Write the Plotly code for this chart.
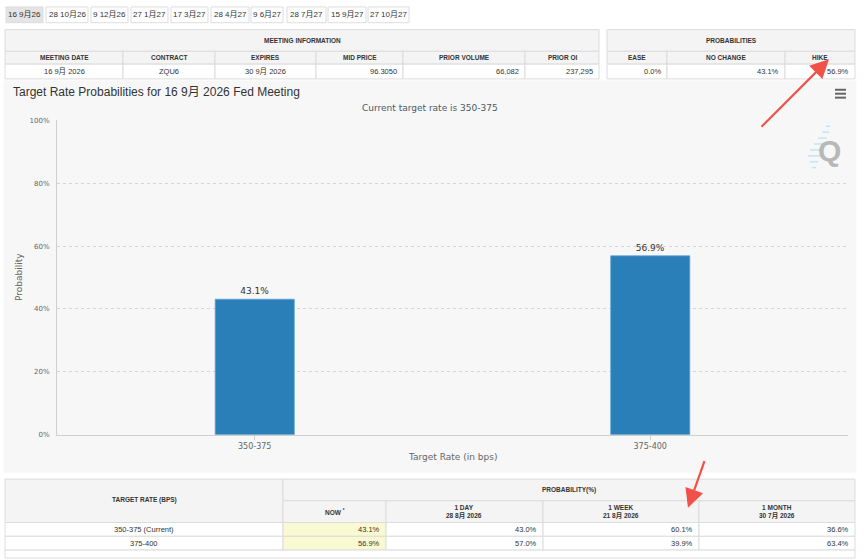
import plotly.graph_objects as go

# ---------------- data ----------------
tab_labels = ["16 9月26", "28 10月26", "9 12月26", "27 1月27", "17 3月27",
              "28 4月27", "9 6月27", "28 7月27", "15 9月27", "27 10月27"]
meeting_header = "MEETING INFORMATION"
meeting_cols = ["MEETING DATE", "CONTRACT", "EXPIRES", "MID PRICE", "PRIOR VOLUME", "PRIOR OI"]
meeting_vals = ["16 9月 2026", "ZQU6", "30 9月 2026", "96.3050", "66,082", "237,295"]
prob_header = "PROBABILITIES"
prob_cols = ["EASE", "NO CHANGE", "HIKE"]
prob_vals = [0.0, 43.1, 56.9]

chart_title = "Target Rate Probabilities for 16 9月 2026 Fed Meeting"
chart_subtitle = "Current target rate is 350-375"
target_rates = ["350-375", "375-400"]
probabilities = [43.1, 56.9]
y_tick_values = [0, 20, 40, 60, 80, 100]
y_tick_labels = ["0%", "20%", "40%", "60%", "80%", "100%"]

row_labels = ["350-375 (Current)", "375-400"]
horizon_headers = ["NOW <sup>*</sup>", "1 DAY<br>28 8月 2026", "1 WEEK<br>21 8月 2026", "1 MONTH<br>30 7月 2026"]
prob_now = [43.1, 56.9]
prob_1day = [43.0, 57.0]
prob_1week = [60.1, 39.9]
prob_1month = [36.6, 63.4]

# ---------------- layout helpers ----------------
W, H = 864, 560
FONT = "Liberation Sans, Arial, Noto Sans CJK SC, sans-serif"
CFONT = "DejaVu Sans, Noto Sans CJK SC, sans-serif"
BORDER = "#dcdcdc"
HEAD_BG = "#f4f4f4"
TXT = "#333333"

def px(x):
    return x / W

def py(y):
    return 1 - y / H

shapes = []
annotations = []

def rect(x0, y0, x1, y1, fill="white", line=BORDER, lw=1, layer="below"):
    shapes.append(dict(type="rect", xref="paper", yref="paper",
                       x0=px(x0), x1=px(x1), y0=py(y1), y1=py(y0),
                       fillcolor=fill, line=dict(color=line, width=lw), layer=layer))

def text(x, y, s, size=7, color=TXT, anchor="center", bold=False, family=FONT):
    if bold:
        s = "<b>" + s + "</b>"
    annotations.append(dict(xref="paper", yref="paper", x=px(x), y=py(y), text=s,
                            showarrow=False, xanchor=anchor, yanchor="middle",
                            font=dict(size=size, color=color, family=family)))

def cell(x0, y0, x1, y1, s, fill="white", align="center", bold=False, size=7):
    rect(x0, y0, x1, y1, fill=fill)
    if align == "center":
        text((x0 + x1) / 2, (y0 + y1) / 2, s, size=size, bold=bold)
    else:
        text(x1 - 4, (y0 + y1) / 2, s, size=size, bold=bold, anchor="right")

# ---------------- tabs ----------------
tab_edges = [(6, 43), (46, 88), (91, 128), (131, 168), (171, 208),
             (211, 249), (251, 283), (287, 326), (328, 366), (368, 409)]
for i, (lab, (a, b)) in enumerate(zip(tab_labels, tab_edges)):
    rect(a, 3, b, 19, fill="#e4e4e4" if i == 0 else "white", line="#dddddd")
    text((a + b) / 2, 11, lab, size=8, color="#333")

# ---------------- meeting information table ----------------
m_edges = [5, 123, 215, 316, 403, 525, 599]
rows_y = [26, 48, 61, 76]
rect(m_edges[0], rows_y[0], m_edges[-1], rows_y[1], fill=HEAD_BG)
text((m_edges[0] + m_edges[-1]) / 2, (rows_y[0] + rows_y[1]) / 2, meeting_header, size=6.5, bold=True)
for i, c in enumerate(meeting_cols):
    cell(m_edges[i], rows_y[1], m_edges[i + 1], rows_y[2], c, fill=HEAD_BG, bold=True, size=6.5)
    cell(m_edges[i], rows_y[2], m_edges[i + 1], rows_y[3], meeting_vals[i],
         align="center" if i < 3 else "right", size=7.5)

p_edges = [607, 667, 785, 855]
rect(p_edges[0], rows_y[0], p_edges[-1], rows_y[1], fill=HEAD_BG)
text((p_edges[0] + p_edges[-1]) / 2, (rows_y[0] + rows_y[1]) / 2, prob_header, size=6.5, bold=True)
for i, c in enumerate(prob_cols):
    cell(p_edges[i], rows_y[1], p_edges[i + 1], rows_y[2], c, fill=HEAD_BG, bold=True, size=6.5)
    cell(p_edges[i], rows_y[2], p_edges[i + 1], rows_y[3], f"{prob_vals[i]:.1f}%", align="right", size=7.5)

# ---------------- chart container ----------------
rect(4, 78, 856, 475, fill="#f7f7f7", line="#f7f7f7")
text(11, 89, chart_title, size=12, color="#333", anchor="left")
text(430, 105, chart_subtitle, size=9, color="#4d5766", family=CFONT)
annotations.append(dict(xref="paper", yref="paper", x=px(19), y=py(277), text="Probability",
                        textangle=-90, showarrow=False, xanchor="center", yanchor="middle",
                        font=dict(size=9, color="#666", family=CFONT)))
text(452, 460, "Target Rate (in bps)", size=9, color="#666", family=CFONT)

# hamburger menu
for yy in (87, 91, 95):
    shapes.append(dict(type="line", xref="paper", yref="paper", x0=px(835), x1=px(846),
                       y0=py(yy), y1=py(yy), line=dict(color="#666", width=2), layer="above"))
# watermark logo
for k, (xa, xb, yy) in enumerate([(826, 830, 124), (822, 829, 130), (818, 827, 136),
                                   (814, 824, 142), (810, 822, 148), (808, 820, 154),
                                   (810, 818, 160), (812, 816, 166)]):
    shapes.append(dict(type="line", xref="paper", yref="paper", x0=px(xa), x1=px(xb),
                       y0=py(yy), y1=py(yy), line=dict(color="#bfe6f5", width=1.5), layer="below"))
text(829, 149, "Q", size=30, color="#b8b8b8", bold=True, family="Liberation Sans, Arial")

# ---------------- bottom table ----------------
b_left, b_split = 5, 283
b_edges = [283, 386, 543, 699, 855]
by = [482, 504, 526, 540, 554]
rect(b_left, by[0], b_split, by[2], fill=HEAD_BG)
text((b_left + b_split) / 2, 503, "TARGET RATE (BPS)", size=6.5, bold=True)
rect(b_split, by[0], b_edges[-1], by[1], fill=HEAD_BG)
text((b_split + b_edges[-1]) / 2, 493, "PROBABILITY(%)", size=6.5, bold=True)
for i, hh in enumerate(horizon_headers):
    cell(b_edges[i], by[1], b_edges[i + 1], by[2], hh, fill=HEAD_BG, bold=True, size=6.5)
series = [prob_now, prob_1day, prob_1week, prob_1month]
for r, lab in enumerate(row_labels):
    cell(b_left, by[2 + r], b_split, by[3 + r], lab, size=7.5)
    for i, s in enumerate(series):
        cell(b_edges[i], by[2 + r], b_edges[i + 1], by[3 + r], f"{s[r]:.1f}%",
             fill="#fafad2" if i == 0 else "white", align="right", size=7.5)
rect(b_left, by[4], b_edges[-1], 562, fill="white")

# ---------------- red arrows ----------------
annotations.append(dict(xref="paper", yref="paper", x=px(829), y=py(56), ax=760 - 829, ay=125 - 56,
                        axref="pixel", ayref="pixel", text="", showarrow=True,
                        arrowhead=2, arrowsize=1.7, arrowwidth=2.2, arrowcolor="#f0524a"))
annotations.append(dict(xref="paper", yref="paper", x=px(688), y=py(511), ax=705 - 688, ay=463 - 511,
                        axref="pixel", ayref="pixel", text="", showarrow=True,
                        arrowhead=2, arrowsize=1.7, arrowwidth=2.2, arrowcolor="#f0524a"))

# ---------------- bar chart ----------------
fig = go.Figure()
fig.add_trace(go.Bar(
    x=target_rates, y=probabilities, width=0.2,
    marker=dict(color="#2a7fb8", line=dict(color="#5fa3d3", width=0.8)),
    text=[f"{v:.1f}%" for v in probabilities], textposition="outside",
    textfont=dict(size=9, color="#333", family=CFONT), cliponaxis=False,
    hoverinfo="x+y",
))

fig.update_layout(
    width=W, height=H, margin=dict(l=0, r=0, t=0, b=0),
    paper_bgcolor="white", plot_bgcolor="#f7f7f7",
    showlegend=False,
    xaxis=dict(domain=[px(57), px(848)], showline=True, linecolor="#d0d0d0", linewidth=1,
               ticks="outside", ticklen=4, tickcolor="#d0d0d0", showgrid=False,
               tickfont=dict(size=8, color="#666", family=CFONT), fixedrange=True),
    yaxis=dict(domain=[py(437), py(118)], range=[0, 100], tickmode="array",
               tickvals=y_tick_values, ticktext=y_tick_labels,
               showline=True, linecolor="#d0d0d0", linewidth=1,
               showgrid=True, gridcolor="#d6d6d6", griddash="dot", zeroline=False,
               tickfont=dict(size=7, color="#666", family=CFONT), ticklabelstandoff=5,
               fixedrange=True),
    shapes=shapes, annotations=annotations,
)

fig.write_html("out.html", config={"displayModeBar": False},
               post_script="document.body.style.margin='0';document.body.style.overflow='hidden';")
